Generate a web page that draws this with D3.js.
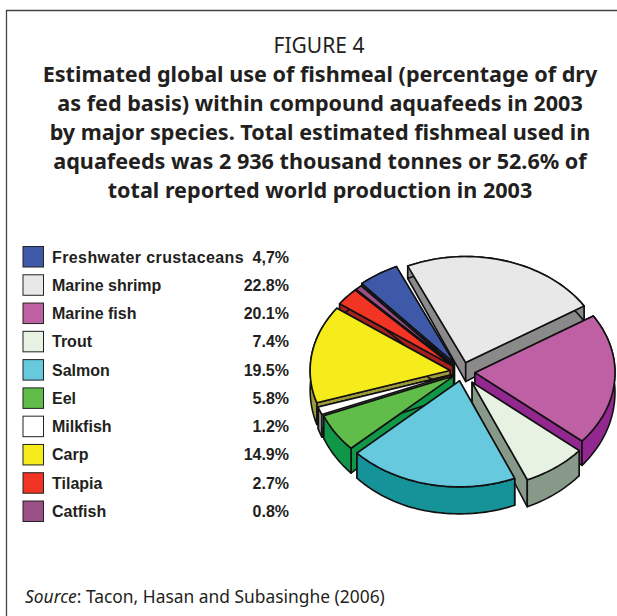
<!DOCTYPE html>
<html><head><meta charset="utf-8">
<script src="https://cdn.jsdelivr.net/npm/d3@7"></script>
<style>html,body{margin:0;padding:0;background:#fff}svg{display:block}</style>
</head><body><svg id="c" width="617" height="616"></svg>
<script>
const categories = ["Freshwater crustaceans","Marine shrimp","Marine fish","Trout","Salmon","Eel","Milkfish","Carp","Tilapia","Catfish"];
const values = [4.7,22.8,20.1,7.4,19.5,5.8,1.2,14.9,2.7,0.8];
const valueLabels = ["4,7%","22.8%","20.1%","7.4%","19.5%","5.8%","1.2%","14.9%","2.7%","0.8%"];
const topColors = ["#3d59a8","#e8e8e9","#c060a4","#e8f2e3","#66c9de","#60bd4a","#ffffff","#f6ec1b","#f23424","#9b4f87"];
const wallColors = ["#2b3f7c","#8a8a8a","#92278f","#879a8a","#169299","#0f9647","#8f8f8f","#9c9a3a","#a6201f","#7a2f6b"];
const explode = [14,13,13,17,12,10,11,12,12,12];
const titleLines = ["Estimated global use of fishmeal (percentage of dry","as fed basis) within compound aquafeeds in 2003","by major species. Total estimated fishmeal used in","aquafeeds was 2 936 thousand tonnes or 52.6% of","total reported world production in 2003"];

const svg = d3.select("#c");
const TAU = Math.PI*2, deg = Math.PI/180;
svg.append("path").attr("d","M6.5,616V10.5H617").attr("fill","none").attr("stroke","#444").attr("stroke-width",1.3);

const textFont = "'Noto Sans','Open Sans',sans-serif";
svg.append("text").attr("x",319).attr("y",53).attr("text-anchor","middle")
  .style("font",`21px ${textFont}`).attr("fill","#231f20").text("FIGURE 4");
svg.selectAll("text.t").data(titleLines).join("text").attr("class","t")
  .attr("x",320).attr("y",(d,i)=>82+i*29).attr("text-anchor","middle")
  .style("font",`bold 21.6px ${textFont}`).attr("fill","#231f20").text(d=>d);

const rowY = d3.scaleLinear().domain([0,9]).range([257,511.5]);
const legend = svg.append("g");
const legendFont = "bold 16px 'Liberation Sans',Arial,sans-serif";
categories.forEach((c,i)=>{
  legend.append("rect").attr("x",23).attr("y",rowY(i)-10.5).attr("width",20.5).attr("height",20.5)
    .attr("fill",topColors[i]).attr("stroke","#222").attr("stroke-width",1);
  legend.append("text").attr("x",52).attr("y",rowY(i)+5.5).style("font",legendFont)
    .style("letter-spacing",i===0?"0.4px":null).attr("fill","#231f20").text(c);
  legend.append("text").attr("x",289).attr("y",rowY(i)+5.5).attr("text-anchor","end").style("font",legendFont).attr("fill","#231f20").text(valueLabels[i]);
});

const src = svg.append("text").attr("x",25).attr("y",603).style("font",`17.4px ${textFont}`).attr("fill","#231f20");
src.append("tspan").attr("font-style","italic").text("Source");
src.append("tspan").text(": Tacon, Hasan and Subasinghe (2006)");

// 3D pie
const cx=462, cy=372, rx=140, ry=106;
const depth = d3.scaleLinear().domain([260,480]).range([12,27]).clamp(true);
const pie = d3.pie().sort(null).startAngle(-41.4*deg).endAngle(-41.4*deg+TAU);
const arcs = pie(values).map((a,i)=>{
  const mid=(a.startAngle+a.endAngle)/2;
  return {i,mid,a0:a.startAngle,a1:a.endAngle,
    ax:cx+explode[i]*Math.sin(mid), ay:cy-explode[i]*Math.cos(mid)*ry/rx};
}).sort((p,q)=>d3.descending(Math.cos(p.mid),Math.cos(q.mid)));
const line = d3.line().curve(d3.curveLinear);
const down = p=>[p[0],p[1]+depth(p[1])];
const pie3d = svg.append("g").attr("stroke","#111").attr("stroke-width",1.6).attr("stroke-linejoin","round");
arcs.forEach(s=>{
  const n=Math.max(4,Math.ceil((s.a1-s.a0)/(1.5*deg)));
  const rim=d3.range(n+1).map(k=>{const t=s.a0+(s.a1-s.a0)*k/n;return [s.ax+rx*Math.sin(t),s.ay-ry*Math.cos(t)];});
  const apex=[s.ax,s.ay];
  const quad=(p,q)=>line([p,q,down(q),down(p)])+"Z";
  const g=pie3d.append("g");
  g.append("path").attr("d",quad(apex,rim[0])).attr("fill",wallColors[s.i]);
  g.append("path").attr("d",quad(apex,rim[n])).attr("fill",wallColors[s.i]);
  g.append("path").attr("d",line(rim.concat(rim.map(down).reverse()))+"Z").attr("fill",wallColors[s.i]);
  g.append("path").attr("d",line([apex].concat(rim))+"Z").attr("fill",topColors[s.i]);
});
</script></body></html>
